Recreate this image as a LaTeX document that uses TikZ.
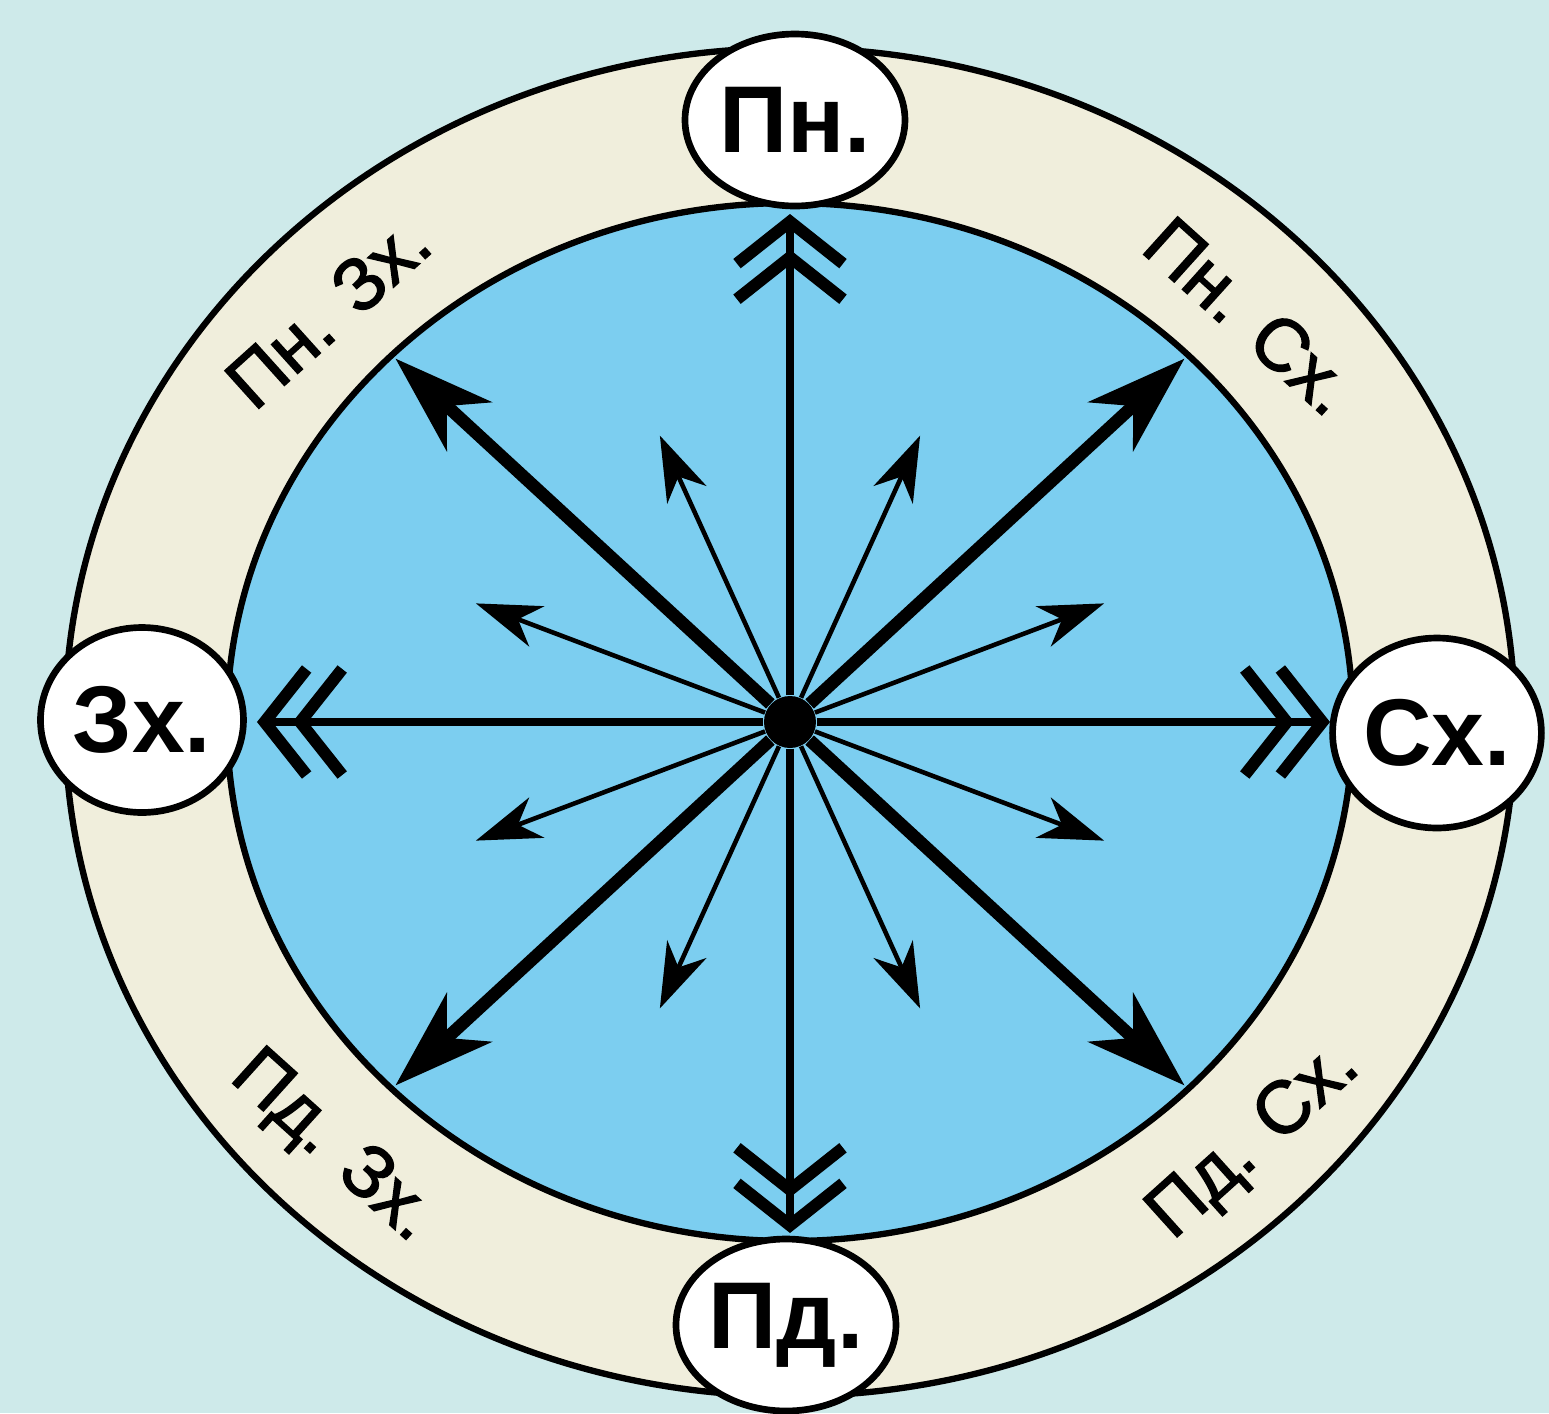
\documentclass[tikz,border=0pt]{standalone}
\usepackage{fontspec}
\setmainfont{Liberation Sans}
\newfontfamily\ringfont[FakeBold=2]{Liberation Sans}
\usepackage{xcolor,tikz}
\usetikzlibrary{arrows.meta,shapes.geometric}
\definecolor{bgcyan}{RGB}{206,234,234}
\definecolor{ringcream}{RGB}{240,238,220}
\definecolor{seablue}{RGB}{124,206,240}

\begin{document}
\begin{tikzpicture}[x=1cm,y=1cm,
  side/.style={draw,line width=1.9pt,fill=white,ellipse,inner sep=0pt,
    font=\bfseries\fontsize{27}{27}\selectfont},
  cardinal/.style={line width=2.4pt,
    -{Straight Barb[length=4.2mm,width=10.6mm,line width=3.4pt,sep=-2mm]
      Straight Barb[length=4.2mm,width=10.6mm,line width=3.4pt]}},
  diagonal/.style={line width=3.6pt,-{Stealth[length=10mm,width=6.6mm,inset=3mm]}},
  minor/.style={line width=1.3pt,-{Stealth[length=6.5mm,width=4.3mm,inset=2mm]}},
  ringlabel/.style={font=\ringfont\fontsize{21}{21}\selectfont}]
\useasboundingbox (-7.90,7.22) rectangle (7.59,-6.91);
\fill[bgcyan] (-7.90,7.22) rectangle (7.59,-6.91);
\draw[line width=1.8pt,fill=ringcream] (0,0) ellipse [x radius=7.25,y radius=6.74];
\draw[line width=1.8pt,fill=seablue] (0,0) ellipse [x radius=5.63,y radius=5.19];

\node[circle,fill=black,inner sep=0pt,minimum size=5.2mm] (O) at (0,0) {};

\foreach \a [count=\i] in {22.5,67.5,...,337.5} {
  \coordinate (m\i) at ({3.4*cos(\a)},{3.1*sin(\a)});
  \draw[minor] (O) -- (m\i);
}
\foreach \a [count=\i] in {45,135,225,315} {
  \coordinate (d\i) at ({5.58*cos(\a)},{5.14*sin(\a)});
  \draw[diagonal] (O) -- (d\i);
}
\coordinate (tN) at (0,5.08);
\coordinate (tS) at (0,-5.11);
\coordinate (tW) at (-5.33,0);
\coordinate (tE) at (5.40,0);
\draw[cardinal] (O) -- (tN);
\draw[cardinal] (O) -- (tS);
\draw[cardinal] (O) -- (tW);
\draw[cardinal] (O) -- (tE);

\node[side,minimum width=2.2cm,minimum height=1.72cm] (north) at (0.05,6.02) {Пн.};
\node[side,minimum width=2.2cm,minimum height=1.72cm] (south) at (-0.04,-6.03) {Пд.};
\node[side,minimum width=2.03cm,minimum height=1.85cm] (west) at (-6.48,0.02) {Зх.};
\node[side,minimum width=2.0cm,minimum height=1.9cm] (east) at (6.47,-0.11) {Сх.};

\node[ringlabel,rotate=42] (nw) at (-4.62,4.10) {Пн. Зх.};
\node[ringlabel,rotate=-42] (ne) at (4.60,4.06) {Пн. Сх.};
\node[ringlabel,rotate=-42] (sw) at (-4.58,-4.26) {Пд. Зх.};
\node[ringlabel,rotate=42] (se) at (4.65,-4.20) {Пд. Сх.};
\end{tikzpicture}
\end{document}
